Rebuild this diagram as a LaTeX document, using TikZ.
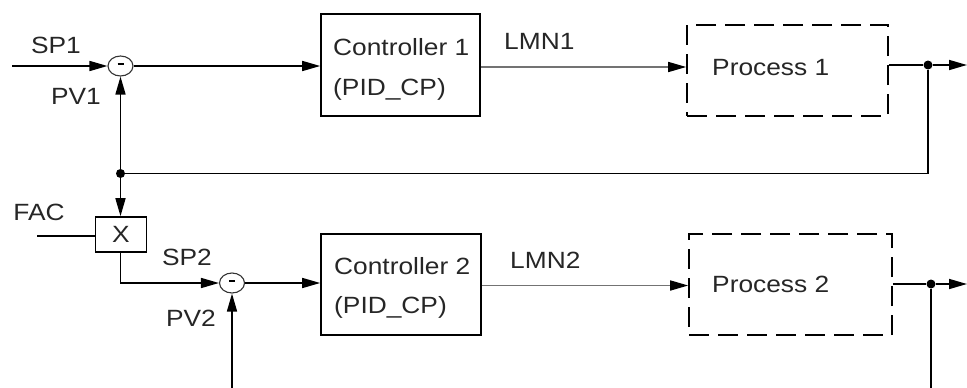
\documentclass[tikz,border=0pt]{standalone}
\usepackage{fontspec}
\setmainfont{Liberation Sans}[FakeStretch=1.12]
\usetikzlibrary{arrows.meta,shapes.geometric}

\tikzset{
  wire/.style={line width=1.6pt, black},
  sig/.style={line width=1.6pt, black!55},
  tip/.style={-{Triangle[length=18pt,width=10pt,color=black]}},
  block/.style={draw, line width=1.6pt, rectangle, inner sep=0pt},
  procbox/.style={block, dash pattern=on 20pt off 9pt},
  summer/.style={draw, ellipse, line width=1.1pt, black!80, inner sep=0pt,
                 minimum width=25pt, minimum height=20pt},
  dot/.style={circle, fill=black, inner sep=0pt, minimum size=9pt},
  txt/.style={inner sep=0pt, text=black!85, text height=16.8pt, text depth=0pt},
  every node/.style={font=\fontsize{23.5pt}{28pt}\selectfont}
}

\begin{document}
\begin{tikzpicture}[x=1pt, y=-1pt]
\useasboundingbox (0,0) rectangle (967,388);

% blocks
\node[block, minimum width=159pt, minimum height=102pt] (ctl1) at (400.5,65) {};
\node[procbox, minimum width=201pt, minimum height=91pt] (proc1) at (787.5,70.5) {};
\node[block, minimum width=160pt, minimum height=101pt] (ctl2) at (401,284.5) {};
\node[procbox, minimum width=203pt, minimum height=101pt] (proc2) at (790.5,284.5) {};
\node[block, minimum width=51pt, minimum height=35pt] (mult) at (121,234.5) {};

% summing points
\node[summer] (sum1) at (120.5,66) {};
\node[summer] (sum2) at (232,283) {};
\draw[line width=1.1pt] ([xshift=-3pt,yshift=2pt]sum1.center) -- ([xshift=3pt,yshift=2pt]sum1.center);
\draw[line width=1.1pt] ([xshift=-3pt,yshift=2pt]sum2.center) -- ([xshift=3pt,yshift=2pt]sum2.center);

% branch points and free ends
\node[dot] (j1) at (120.5,173.5) {};
\node[dot] (j2) at (928,65) {};
\node[dot] (j3) at (931,284) {};
\coordinate (in1) at (12,66);
\coordinate (fac) at (37,236);
\coordinate (out1) at (967,65);
\coordinate (out2) at (967,284);
\coordinate (bot2) at (931,388);
\coordinate (pv2) at (232,388);

% texts
\node[txt] at (56,45) {SP1};
\node[txt] at (76,96) {PV1};
\node[txt] at (39,212) {FAC};
\node[txt] at (mult) {X};
\node[txt] at (187,257) {SP2};
\node[txt] at (191,318) {PV2};
\node[txt, anchor=west] at (333,47) {Controller 1};
\node[txt, anchor=west] at (333,87) {(PID\_CP)};
\node[txt, anchor=west] at (334,266) {Controller 2};
\node[txt, anchor=west] at (334,305) {(PID\_CP)};
\node[txt, anchor=west] at (504,41) {LMN1};
\node[txt, anchor=west] at (510,260) {LMN2};
\node[txt, anchor=west] at (712,67) {Process 1};
\node[txt, anchor=west] at (712,284) {Process 2};

% loop 1
\draw[wire, tip] (in1) -- (sum1.west);
\draw[wire, tip] (sum1.east) -- (sum1.east -| ctl1.west);
\draw[sig, tip] ([yshift=-2pt]ctl1.east) -- ([yshift=-2pt]ctl1.east -| proc1.west);
\draw[wire] (proc1.east |- j2) -- (j2);
\draw[wire, tip] (j2) -- (out1);
\draw[wire] (j2) -- (j2 |- j1) -- (j1);
\draw[wire, tip] (j1) -- (sum1.south);

% ratio path
\draw[wire, tip] (j1) -- (j1 |- mult.north);
\draw[wire] (fac) -- (fac -| mult.west);
\draw[wire, tip] (j1 |- mult.south) -- (j1 |- sum2) -- (sum2.west);

% loop 2
\draw[wire, tip] (sum2.east) -- (sum2.east -| ctl2.west);
\draw[sig, tip] ([yshift=-1pt]ctl2.east) -- ([yshift=-1pt]ctl2.east -| proc2.west);
\draw[wire] (proc2.east |- j3) -- (j3);
\draw[wire, tip] (j3) -- (out2);
\draw[wire] (j3) -- (bot2);
\draw[wire, tip] (pv2) -- (sum2.south);
\end{tikzpicture}
\end{document}
